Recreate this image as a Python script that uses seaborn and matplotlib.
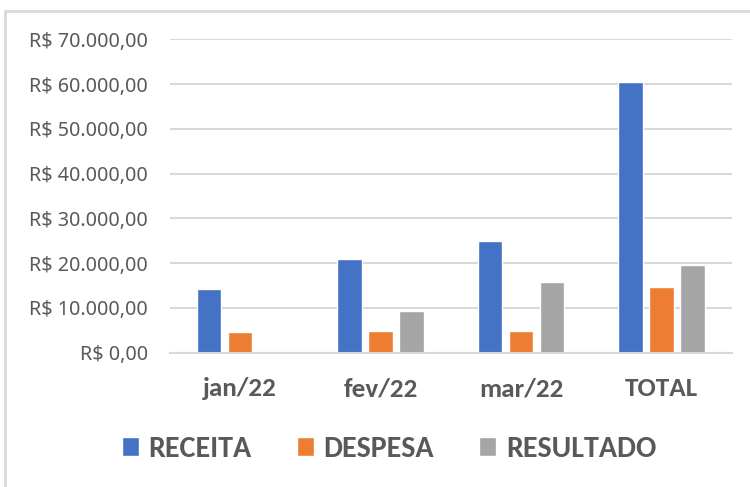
import matplotlib
matplotlib.use("Agg")
import matplotlib.pyplot as plt
from matplotlib.lines import Line2D
from matplotlib.ticker import FuncFormatter, MultipleLocator
import seaborn as sns
import pandas as pd

categorias = ["jan/22", "fev/22", "mar/22", "TOTAL"]
series = ["RECEITA", "DESPESA", "RESULTADO"]
receita = [14300, 21000, 24950, 60500]
despesa = [4560, 4850, 4780, 14600]
resultado = [0, 9250, 15860, 19600]
cores = ["#4472C4", "#ED7D31", "#A5A5A5"]

rows = []
for nome, vals in zip(series, [receita, despesa, resultado]):
    for c, v in zip(categorias, vals):
        rows.append({"mes": c, "serie": nome, "valor": v})
df = pd.DataFrame(rows)

sns.set_style("white")
FAM_TICK = ["Noto Sans", "Open Sans", "DejaVu Sans"]
FAM_BOLD = ["Carlito", "Liberation Sans Narrow", "DejaVu Sans"]
plt.rcParams["font.family"] = FAM_TICK
TXT = "#595959"

fig = plt.figure(figsize=(7.5, 4.87), dpi=100)
ax = fig.add_axes([170 / 750, 1 - 352.7 / 487, (731.7 - 170) / 750, (352.7 - 39.3) / 487])

sns.barplot(data=df, x="mes", y="valor", hue="serie", order=categorias,
            hue_order=series, palette=cores, width=0.663, gap=0.21,
            saturation=1, ax=ax, legend=True)

ax.set_ylim(0, 70000)
ax.set_xlim(-0.5, 3.5)
ax.yaxis.set_major_locator(MultipleLocator(10000))

def fmt(v, pos):
    s = format(v, ",.2f").replace(",", "X").replace(".", ",").replace("X", ".")
    return "R$ " + s

ax.yaxis.set_major_formatter(FuncFormatter(fmt))
ax.grid(axis="y", color="#D9D9D9", linewidth=1.5)
ax.set_axisbelow(True)
for s in ["top", "right", "left"]:
    ax.spines[s].set_visible(False)
ax.spines["bottom"].set_color("#D9D9D9")
ax.spines["bottom"].set_linewidth(1.5)
ax.set_xlabel("")
ax.set_ylabel("")
ax.tick_params(axis="y", length=0, pad=16, labelsize=14.2, labelcolor=TXT)
ax.tick_params(axis="x", length=0, pad=17.5, labelcolor=TXT)
for lab in ax.get_xticklabels():
    lab.set_family(FAM_BOLD)
    lab.set_fontsize(19.5)
    lab.set_fontweight("bold")

handles, labels = ax.get_legend_handles_labels()
ax.legend_.remove()
leg = fig.legend(handles, labels, loc="center", ncol=3,
                 bbox_to_anchor=(389 / 750, 1 - 449 / 487), frameon=False,
                 prop={"family": FAM_BOLD, "size": 21.6, "weight": "bold"},
                 handlelength=0.57, handleheight=0.57, handletextpad=0.33,
                 columnspacing=1.5, labelcolor=TXT)

fig.add_artist(Line2D([5 / 750, 1.0], [1 - 11 / 487, 1 - 11 / 487],
                      transform=fig.transFigure, color="#D9D9D9", linewidth=2))
fig.add_artist(Line2D([5 / 750, 5 / 750], [0, 1 - 11 / 487],
                      transform=fig.transFigure, color="#D9D9D9", linewidth=2))

fig.savefig("out.png", dpi=100)
